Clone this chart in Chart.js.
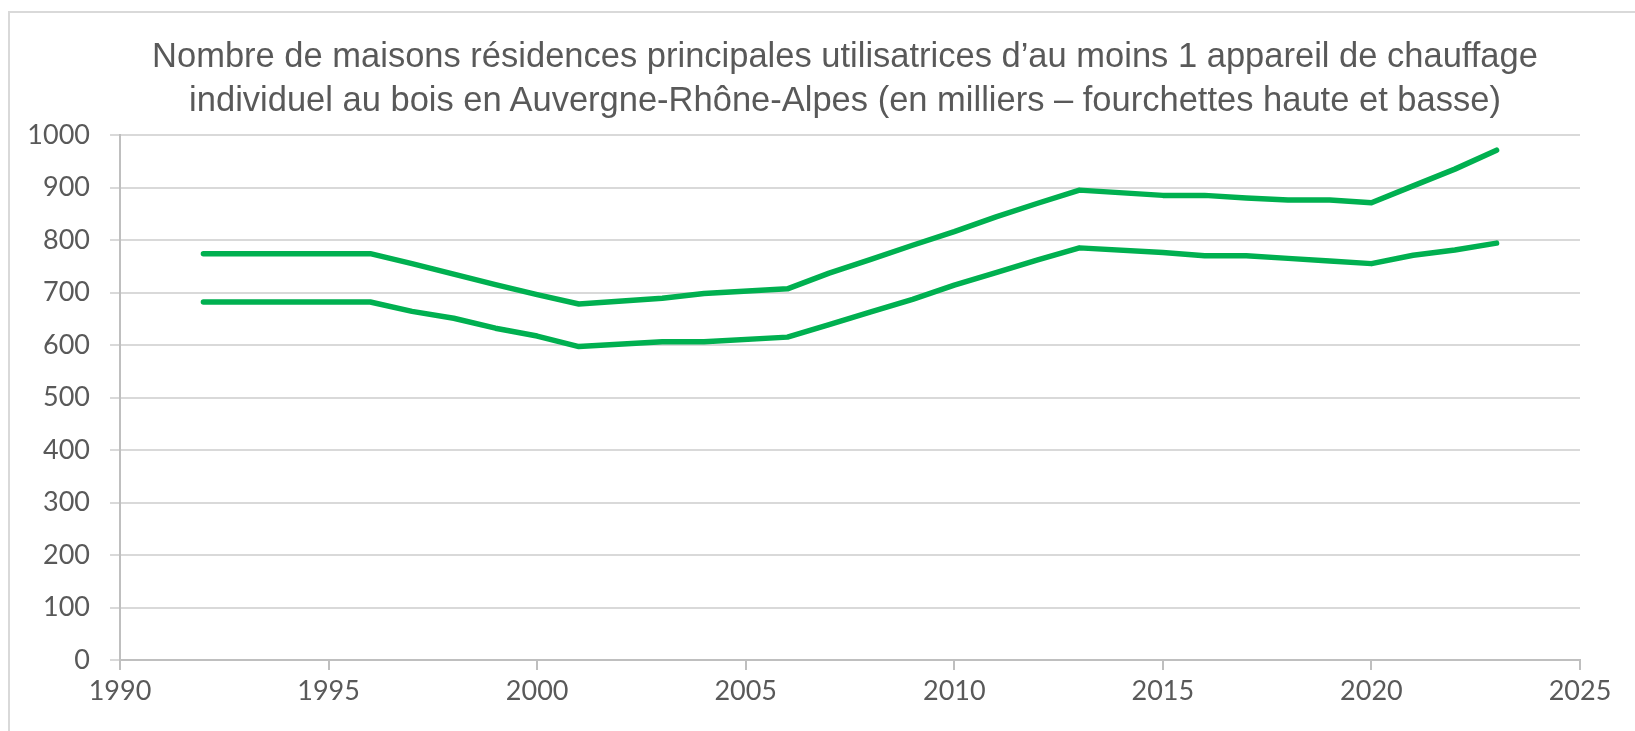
<!DOCTYPE html>
<html lang="fr">
<head>
<meta charset="utf-8">
<title>Chauffage au bois – Auvergne-Rhône-Alpes</title>
<script src="https://cdn.jsdelivr.net/npm/chart.js@4.4.1/dist/chart.umd.min.js"></script>
<style>
  html, body { margin: 0; padding: 0; background: #fff; overflow: hidden; }
  .frame {
    position: absolute; left: 8px; top: 11px;
    width: 1700px; height: 800px;
    border: 2px solid #d9d9d9;
  }
  .title {
    position: absolute; left: 110px; width: 1470px; top: 33px;
    text-align: center;
    font: 34.5px/44px "Liberation Sans", Arial, sans-serif;
    color: #595959;
    white-space: nowrap;
  }
  #chart { position: absolute; left: 0; top: 0; }
</style>
</head>
<body>
<div class="frame"></div>
<canvas id="chart" width="1635" height="731"></canvas>
<div class="title" id="title"></div>
<script>
/* ===== DATA ===== */
const years = [1992, 1996, 1997, 1998, 1999, 2000, 2001, 2003, 2004, 2006, 2007, 2008, 2009,
               2010, 2011, 2012, 2013, 2015, 2016, 2017, 2018, 2019, 2020, 2021, 2022, 2023];
const upperValues = [774, 774, 755, 735, 715, 696, 678, 689, 698, 707, 737, 763, 790,
                     816, 844, 870, 895, 885, 885, 880, 876, 876, 871, 903, 935, 971];
const lowerValues = [682, 682, 664, 651, 632, 617, 597, 606, 606, 615, 639, 663, 687,
                     714, 738, 762, 785, 776, 770, 770, 765, 760, 755, 771, 781, 794];
const xTicks = [1990, 1995, 2000, 2005, 2010, 2015, 2020, 2025];
const yTicks = [0, 100, 200, 300, 400, 500, 600, 700, 800, 900, 1000];
const titleLines = [
  'Nombre de maisons résidences principales utilisatrices d’au moins 1 appareil de chauffage',
  'individuel au bois en Auvergne-Rhône-Alpes (en milliers – fourchettes haute et basse)'
];

/* ===== TITLE ===== */
// kept in HTML so it can be centred over the plot rather than the whole canvas
const titleEl = document.getElementById('title');
titleLines.forEach(line => {
  const d = document.createElement('div');
  d.textContent = line;
  titleEl.appendChild(d);
});

/* ===== STYLE ===== */
const GREEN = '#00b050';
const GRID = '#d9d9d9';
const AXIS = '#bfbfbf';
const TEXT = '#595959';
const TICK_FONT = { family: 'Lato, "Liberation Sans", sans-serif', size: 27 };

const toPoints = vals => years.map((y, i) => ({ x: y, y: vals[i] }));

const lineStyle = {
  borderColor: GREEN,
  backgroundColor: GREEN,
  borderWidth: 5.5,
  borderCapStyle: 'round',
  borderJoinStyle: 'round',
  pointRadius: 0,
  tension: 0,
  fill: false
};

new Chart(document.getElementById('chart'), {
  type: 'line',
  data: {
    datasets: [
      { label: 'Fourchette haute', data: toPoints(upperValues), ...lineStyle },
      { label: 'Fourchette basse', data: toPoints(lowerValues), ...lineStyle }
    ]
  },
  options: {
    responsive: false,
    animation: false,
    layout: { padding: { left: 0, right: 55, top: 135, bottom: 0 } },
    scales: {
      x: {
        type: 'linear',
        min: xTicks[0],
        max: xTicks[xTicks.length - 1],
        afterBuildTicks: s => { s.ticks = xTicks.map(v => ({ value: v })); },
        afterFit: s => { s.height = 71; },
        ticks: {
          color: TEXT,
          font: TICK_FONT,
          padding: 5,
          maxRotation: 0,
          callback: v => String(v)
        },
        grid: { drawOnChartArea: false, drawTicks: true, tickLength: 10, color: AXIS, lineWidth: 2 },
        border: { color: AXIS, width: 2 }
      },
      y: {
        min: 0,
        max: 1000,
        afterBuildTicks: s => { s.ticks = yTicks.map(v => ({ value: v })); },
        afterFit: s => { s.width = 120; },
        ticks: {
          color: TEXT,
          font: TICK_FONT,
          padding: 20,
          callback: v => String(v)
        },
        grid: { color: GRID, lineWidth: 2, tickLength: 10 },
        border: { color: AXIS, width: 2 }
      }
    },
    plugins: {
      legend: { display: false },
      tooltip: { enabled: false },
      title: { display: false }
    }
  }
});
</script>
</body>
</html>
